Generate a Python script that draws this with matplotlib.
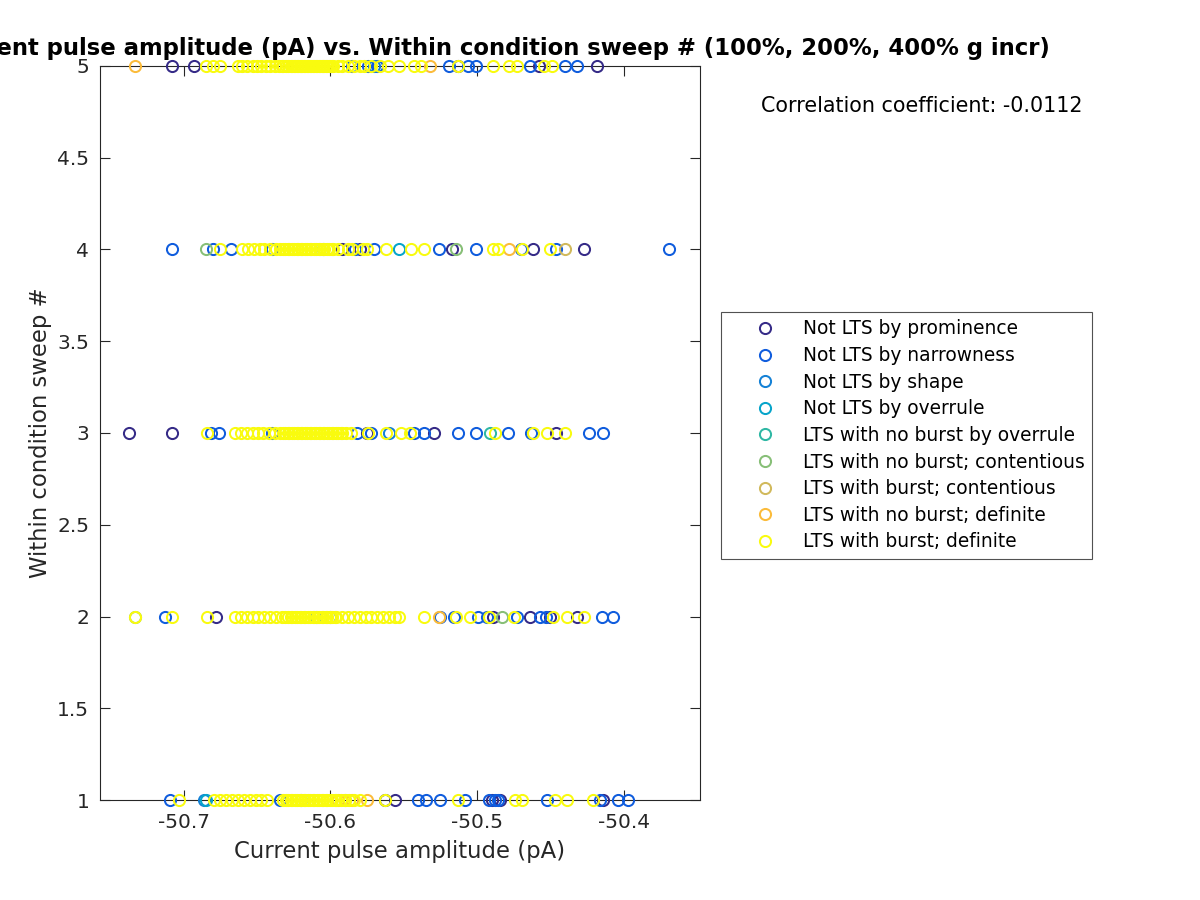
import matplotlib
matplotlib.use("Agg")
import matplotlib.pyplot as plt
from matplotlib.lines import Line2D

labels = [
    "Not LTS by prominence",
    "Not LTS by narrowness",
    "Not LTS by shape",
    "Not LTS by overrule",
    "LTS with no burst by overrule",
    "LTS with no burst; contentious",
    "LTS with burst; contentious",
    "LTS with no burst; definite",
    "LTS with burst; definite",
]
colors = ["#352a87", "#0f5cdd", "#1481d6", "#06a4ca", "#2eb7a4",
          "#87bf77", "#d1b95b", "#fbbb3a", "#f9fb0e"]

# x values (current pulse amplitude, pA) per class and per sweep number
prom = {
    5: [-50.708, -50.693, -50.513, -50.458, -50.418],
    4: [-50.592, -50.580, -50.517, -50.462, -50.427],
    3: [-50.737, -50.708, -50.575, -50.529, -50.446],
    2: [-50.678, -50.489, -50.464, -50.450, -50.432],
    1: [-50.563, -50.556, -50.490, -50.484, -50.414],
}
narrow = {
    5: [-50.585, -50.574, -50.568, -50.519, -50.506, -50.501, -50.464, -50.440, -50.432],
    4: [-50.708, -50.680, -50.668, -50.640, -50.583, -50.570, -50.526, -50.501, -50.470, -50.446, -50.369],
    3: [-50.681, -50.676, -50.640, -50.582, -50.572, -50.543, -50.536, -50.513, -50.501, -50.479, -50.463, -50.424, -50.414],
    2: [-50.713, -50.600, -50.525, -50.516, -50.499, -50.493, -50.473, -50.457, -50.453, -50.415, -50.407],
    1: [-50.709, -50.634, -50.540, -50.535, -50.525, -50.508, -50.492, -50.488, -50.486, -50.452, -50.416, -50.404, -50.397],
}
shape = {
    5: [-50.570],
    4: [-50.605],
    3: [-50.560],
    2: [-50.610],
    1: [-50.686, -50.620],
}
overrule = {
    4: [-50.553],
    1: [-50.685],
}
nb_overrule = {
    3: [-50.491],
}
nb_cont = {
    4: [-50.685, -50.514],
    2: [-50.733, -50.483],
}
b_cont = {
    4: [-50.440],
    1: [-50.590],
}
nb_def = {
    5: [-50.733, -50.532],
    4: [-50.478],
    2: [-50.526],
    1: [-50.595, -50.585, -50.575],
}
b_def = {
    5: [-50.685, -50.680, -50.675, -50.663, -50.660, -50.657, -50.653, -50.650, -50.647,
        -50.644, -50.641, -50.638, -50.635, -50.633, -50.632, -50.630, -50.629, -50.627,
        -50.626, -50.625, -50.624, -50.623, -50.622, -50.621, -50.620, -50.619, -50.618,
        -50.617, -50.616, -50.615, -50.614, -50.613, -50.612, -50.611, -50.610, -50.609,
        -50.608, -50.607, -50.606, -50.605, -50.604, -50.603, -50.602, -50.601, -50.600,
        -50.599, -50.598, -50.595, -50.592, -50.588, -50.584, -50.580, -50.577,
        -50.572, -50.566, -50.561, -50.553, -50.543, -50.538, -50.513, -50.489, -50.478,
        -50.473, -50.454, -50.449],
    4: [-50.675, -50.660, -50.656, -50.652, -50.648, -50.645, -50.641, -50.637, -50.634,
        -50.632, -50.631, -50.629, -50.628, -50.626, -50.625, -50.623, -50.622, -50.620,
        -50.619, -50.617, -50.616, -50.614, -50.613, -50.611, -50.610, -50.608, -50.607,
        -50.605, -50.604, -50.602, -50.601, -50.599, -50.598, -50.595, -50.588, -50.585,
        -50.578, -50.575, -50.562, -50.545, -50.536, -50.489, -50.486, -50.469, -50.450],
    3: [-50.684, -50.665, -50.661, -50.657, -50.653, -50.649, -50.646, -50.642, -50.638,
        -50.634, -50.632, -50.631, -50.629, -50.628, -50.626, -50.625, -50.623, -50.622,
        -50.620, -50.619, -50.617, -50.616, -50.614, -50.613, -50.611, -50.610, -50.608,
        -50.607, -50.605, -50.604, -50.602, -50.601, -50.599, -50.598, -50.596, -50.595,
        -50.593, -50.592, -50.589, -50.586, -50.574, -50.562, -50.552, -50.546, -50.488,
        -50.462, -50.452, -50.440],
    2: [-50.733, -50.708, -50.684, -50.665, -50.661, -50.657, -50.653, -50.649, -50.645,
        -50.641, -50.637, -50.633, -50.631, -50.629, -50.627, -50.626, -50.624, -50.623,
        -50.621, -50.620, -50.618, -50.617, -50.615, -50.614, -50.612, -50.611, -50.609,
        -50.608, -50.606, -50.605, -50.603, -50.602, -50.600, -50.599, -50.597, -50.596,
        -50.592, -50.588, -50.584, -50.580, -50.576, -50.572, -50.568, -50.564, -50.560,
        -50.556, -50.553, -50.536, -50.514, -50.505, -50.492, -50.475, -50.448, -50.439,
        -50.427],
    1: [-50.703, -50.679, -50.675, -50.671, -50.667, -50.663, -50.659, -50.655, -50.651,
        -50.647, -50.643, -50.632, -50.630, -50.629, -50.627, -50.626, -50.624, -50.623,
        -50.621, -50.620, -50.618, -50.617, -50.615, -50.614, -50.612, -50.611, -50.609,
        -50.608, -50.606, -50.605, -50.603, -50.602, -50.600, -50.599, -50.597, -50.596,
        -50.593, -50.590, -50.587, -50.584, -50.580, -50.563, -50.513, -50.474, -50.469,
        -50.447, -50.439, -50.421],
}
groups = [prom, narrow, shape, overrule, nb_overrule, nb_cont, b_cont, nb_def, b_def]

xticks = [-50.7, -50.6, -50.5, -50.4]
yticks = [1, 1.5, 2, 2.5, 3, 3.5, 4, 4.5, 5]
title_text = "Current pulse amplitude (pA) vs. Within condition sweep # (100%, 200%, 400% g incr)"
xlabel_text = "Current pulse amplitude (pA)"
ylabel_text = "Within condition sweep #"
corr_text = "Correlation coefficient: -0.0112"

plt.rcParams['font.family'] = ['DejaVu Sans']
fig = plt.figure(figsize=(12, 9), dpi=100)
ax = fig.add_axes([100/1200, 100/900, 600/1200, 734/900])

for grp, col in zip(groups, colors):
    xs, ys = [], []
    for sweep, vals in grp.items():
        xs.extend(vals)
        ys.extend([sweep] * len(vals))
    ax.plot(xs, ys, linestyle='none', marker='o', markersize=8,
            markerfacecolor='none', markeredgecolor=col, markeredgewidth=1.45,
            clip_on=False, zorder=3)

ax.set_xlim(-50.757, -50.348)
ax.set_ylim(1, 5)
ax.set_xticks(xticks)
ax.set_xticklabels([f"{t:g}" for t in xticks])
ax.set_yticks(yticks)
ax.set_yticklabels([f"{t:g}" for t in yticks])
ax.tick_params(direction='in', length=7, width=0.8, top=True, right=True,
               labelsize=14.5, colors='#262626')
ax.tick_params(axis='x', pad=9)
ax.tick_params(axis='y', pad=7.7)
for s in ax.spines.values():
    s.set_color('#262626')
    s.set_linewidth(0.8)

ax.set_xlabel(xlabel_text, fontsize=16.4, color='#262626')
ax.xaxis.set_label_coords(0.5, -0.055)
ax.set_ylabel(ylabel_text, fontsize=16.4, color='#262626')
ax.yaxis.set_label_coords(-0.08, 0.5)

fig.text(1050/1200, 1 - 55.5/900, title_text, fontsize=16.4, fontweight='bold',
         ha='right', va='baseline', color='black')

fig.text(761/1200, 1 - 111.5/900, corr_text, fontsize=14.9, ha='left', va='baseline')

handles = [Line2D([], [], linestyle='none', marker='o', markersize=8,
                  markerfacecolor='none', markeredgecolor=c, markeredgewidth=1.45)
           for c in colors]
leg = fig.legend(handles, labels, loc='upper left', bbox_to_anchor=(721/1200, 1 - 312/900),
                 frameon=True, fancybox=False, edgecolor='#262626', fontsize=13.4,
                 handletextpad=0.1, labelspacing=0.41, borderpad=0.4, handlelength=3.9,
                 borderaxespad=0, numpoints=1)
leg.get_frame().set_linewidth(0.8)

fig.savefig("out.png", dpi=100)
